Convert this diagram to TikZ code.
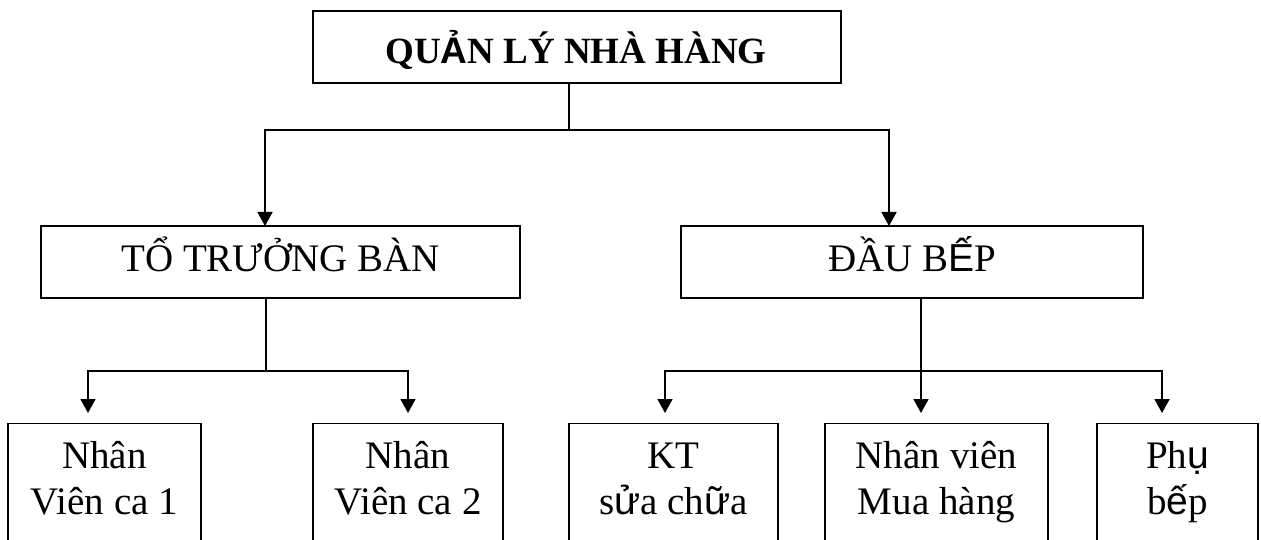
\documentclass[tikz,border=0pt]{standalone}
\usepackage{fontspec}
\setmainfont{Liberation Serif}
\newfontfamily\altsans{Liberation Sans}
\usetikzlibrary{arrows.meta}
\begin{document}
\begin{tikzpicture}[x=1pt,y=-1pt,line width=1.8pt,
  box/.style={draw,rectangle,inner sep=0pt},
  lbl/.style={anchor=base,align=center,inner sep=0pt,font=\fontsize{39}{46}\selectfont},
  arr/.style={-{Triangle[width=15pt,length=14pt]}}]
\useasboundingbox (0,0) rectangle (1261,540);
\clip (0,0) rectangle (1261,540);
% boxes
\node[box,minimum width=528pt,minimum height=72pt] (top) at (577,47) {};
\node[box,minimum width=479pt,minimum height=72pt] (to) at (280.5,262) {};
\node[box,minimum width=462pt,minimum height=72pt] (dau) at (912,262) {};
\node[box,minimum width=193pt,minimum height=137pt] (b1) at (104.5,492) {};
\node[box,minimum width=190pt,minimum height=137pt] (b2) at (408,492) {};
\node[box,minimum width=209pt,minimum height=137pt] (b3) at (673.5,492) {};
\node[box,minimum width=223pt,minimum height=137pt] (b4) at (936.5,492) {};
\node[box,minimum width=161pt,minimum height=137pt] (b5) at (1177.5,492) {};
% labels
\node[lbl,font=\fontsize{37}{46}\selectfont\bfseries] (ttop) at (576,64) {QU{\altsans Ả}N LÝ NHÀ HÀNG};
\node[lbl] (tto) at (280.5,272) {TỔ TRƯỞNG BÀN};
\node[lbl] (tdau) at (912,272) {ĐẦU B{\altsans Ế}P};
\node[lbl] (t1) at (104.5,514) {Nhân\\Viên ca 1};
\node[lbl] (t2) at (408,514) {Nhân\\Viên ca 2};
\node[lbl] (t3) at (673.5,514) {KT\\s{\altsans ử}a ch{\altsans ữ}a};
\node[lbl] (t4) at (936.5,514) {Nhân viên\\Mua hàng};
\node[lbl] (t5) at (1177.5,514) {Ph{\altsans ụ}\\b{\altsans ế}p};
% junctions and arrow ends
\coordinate (j1) at (569,130);
\coordinate (a1) at (265,226);
\coordinate (a2) at (889,226);
\coordinate (j2) at (266,371);
\coordinate (j3) at (921,371);
\coordinate (e1) at (88,413);
\coordinate (e2) at (408,413);
\coordinate (e3) at (665,413);
\coordinate (e4) at (921,413);
\coordinate (e5) at (1162,413);
% connectors
\draw (top.south -| j1) -- (j1);
\draw[arr] (j1) -| (a1);
\draw[arr] (j1) -| (a2);
\draw (to.south -| j2) -- (j2);
\draw[arr] (j2) -| (e1);
\draw[arr] (j2) -| (e2);
\draw (dau.south -| j3) -- (j3);
\draw[arr] (j3) -| (e3);
\draw[arr] (j3) -- (e4);
\draw[arr] (j3) -| (e5);
\end{tikzpicture}
\end{document}
